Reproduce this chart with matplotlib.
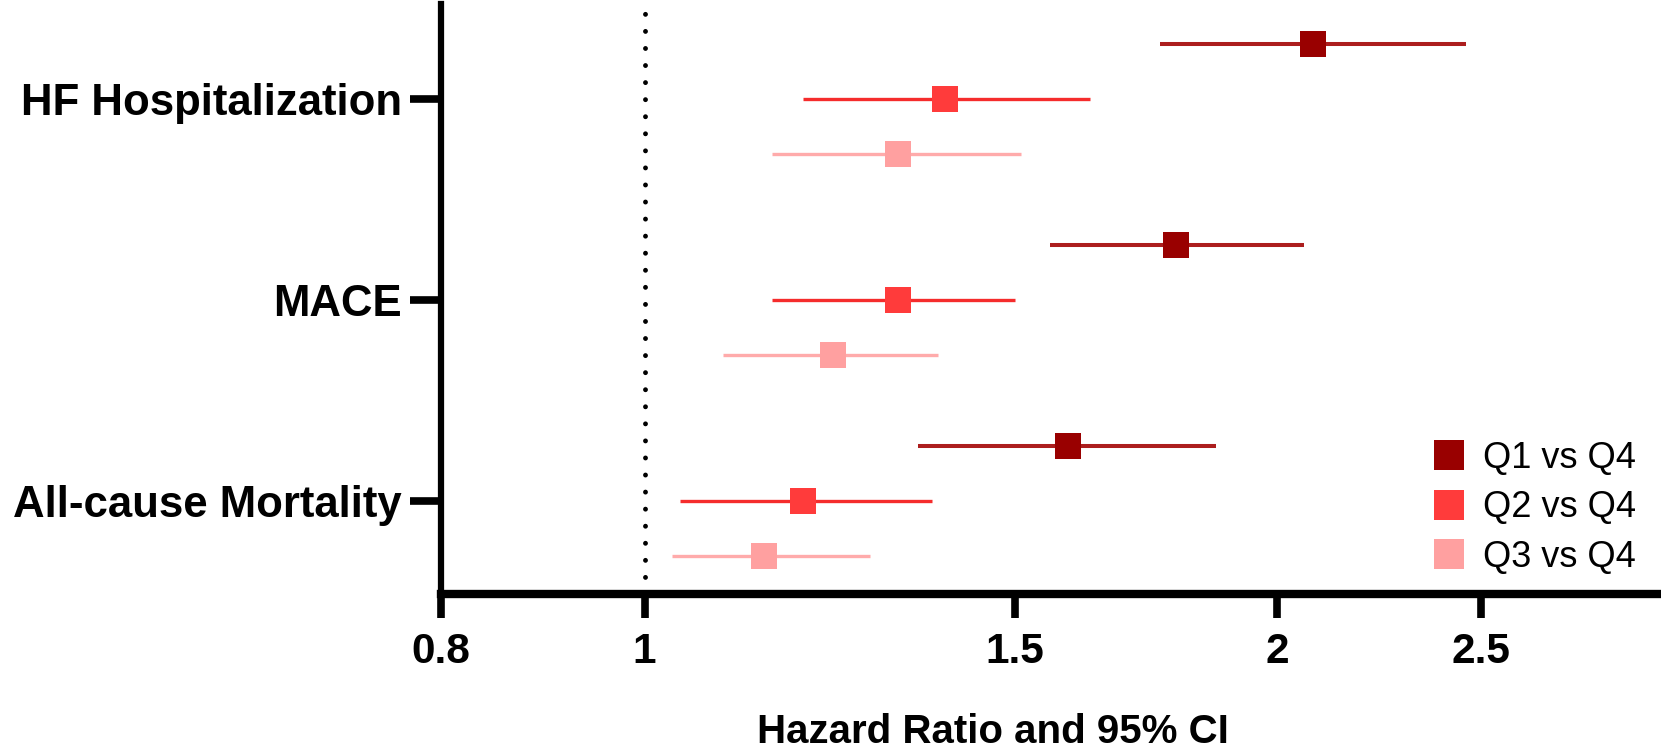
import matplotlib.pyplot as plt
from matplotlib.lines import Line2D

plt.rcParams["font.family"] = ["Liberation Sans", "DejaVu Sans"]

outcomes = ["HF Hospitalization", "MACE", "All-cause Mortality"]
groups = ["Q1 vs Q4", "Q2 vs Q4", "Q3 vs Q4"]

# hazard ratios and 95% CI, order follows outcomes
q1_hr = [2.08, 1.79, 1.59]
q1_lo = [1.76, 1.56, 1.35]
q1_hi = [2.46, 2.06, 1.87]

q2_hr = [1.39, 1.32, 1.19]
q2_lo = [1.19, 1.15, 1.04]
q2_hi = [1.63, 1.50, 1.37]

q3_hr = [1.32, 1.23, 1.14]
q3_lo = [1.15, 1.09, 1.03]
q3_hi = [1.51, 1.38, 1.28]

xticks = [0.8, 1, 1.5, 2, 2.5]
xtick_labels = ["0.8", "1", "1.5", "2", "2.5"]

marker_colors = ["#990000", "#ff3b3b", "#ffa0a0"]
line_colors = ["#ac1e1e", "#f52c2c", "#ffabab"]
line_widths = [2.9, 2.4, 2.4]
offsets = [0.274, 0.0, -0.274]
base = [3, 2, 1]

fig = plt.figure(figsize=(16.61, 7.55), dpi=100)
ax = fig.add_axes([0.2655, 0.2132, 0.7333, 0.7815])

series = [(q1_hr, q1_lo, q1_hi), (q2_hr, q2_lo, q2_hi), (q3_hr, q3_lo, q3_hi)]
for k, (hr, lo, hi) in enumerate(series):
    ys = [b + offsets[k] for b in base]
    ax.hlines(ys, lo, hi, color=line_colors[k], lw=line_widths[k], zorder=2)
    ax.plot(hr, ys, ls="none", marker="s", ms=18.7, mew=0,
            color=marker_colors[k], zorder=3)

ax.axvline(1, color="black", ls=(0, (0.01, 3.5)), lw=3.5,
           dash_capstyle="round", zorder=1)

ax.set_xscale("log")
ax.set_xlim(0.8, 3.04)
ax.set_ylim(0.537, 3.473)
ax.set_xticks(xticks)
ax.set_xticklabels(xtick_labels)
ax.minorticks_off()
ax.set_yticks(base)
ax.set_yticklabels(outcomes)

for s in ["top", "right"]:
    ax.spines[s].set_visible(False)
ax.spines["left"].set_linewidth(4.5)
ax.spines["bottom"].set_linewidth(6)

ax.tick_params(axis="x", length=17.5, width=5.5, pad=10, labelsize=30.5)
ax.tick_params(axis="y", length=22, width=5.5, pad=6, labelsize=31.5)
for lab in ax.get_xticklabels() + ax.get_yticklabels():
    lab.set_fontweight("bold")

fig.text(993 / 1661, 1 - 743 / 755, "Hazard Ratio and 95% CI", fontsize=29,
         fontweight="bold", ha="center", va="baseline")

handles = [Line2D([], [], ls="none", marker="s", ms=21.5, mew=0, color=c)
           for c in marker_colors]
ax.legend(handles, groups, loc="lower right", frameon=False, fontsize=26,
          handlelength=1.0, handletextpad=0.45, labelspacing=0.4,
          borderaxespad=0.0, bbox_to_anchor=(0.993, 0.008))

fig.savefig("out.png", dpi=100)
